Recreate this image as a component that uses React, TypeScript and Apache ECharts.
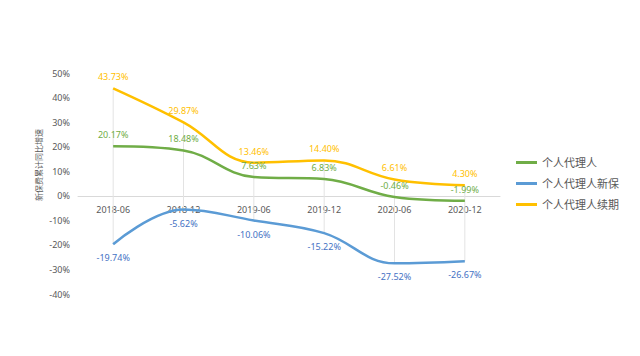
import React, { useEffect, useRef } from "react";
import * as echarts from "echarts";

const categories = ["2018-06", "2018-12", "2019-06", "2019-12", "2020-06", "2020-12"];
const agentTotal = [20.17, 18.48, 7.63, 6.83, -0.46, -1.99];
const agentNew = [-19.74, -5.62, -10.06, -15.22, -27.52, -26.67];
const agentRenew = [43.73, 29.87, 13.46, 14.4, 6.61, 4.3];
const seriesNames = ["个人代理人", "个人代理人新保", "个人代理人续期"];
const yTitle = "新保费累计同比增速";
const yMin = -40;
const yMax = 50;

export default function App() {
  const ref = useRef<HTMLDivElement>(null);
  useEffect(() => {
    if (!ref.current) return;
    const chart = echarts.init(ref.current, null, { renderer: "svg" });
    const hiLo = categories.map((_, i) => {
      const vals = [agentTotal[i], agentNew[i], agentRenew[i]];
      return [i, Math.min(...vals), Math.max(...vals)];
    });
    const gridTop = 73;
    const gridBottom = 62;
    const gridH = 356 - gridTop - gridBottom;
    const zeroOffset = (gridH * (0 - yMin)) / (yMax - yMin);
    const font = "'Noto Sans', 'Noto Sans CJK SC', sans-serif";
    const lbl = (color: string, pos: string, distance: number) => ({
      show: true,
      position: pos,
      distance,
      color,
      fontSize: 9,
      fontFamily: font,
      formatter: (p: any) => p.value.toFixed(2) + "%",
    });
    const lineSeries = (name: string, data: number[], color: string, labelColor: string, pos: string, distance: number) => ({
      name,
      type: "line",
      data,
      smooth: 0.4,
      symbol: "circle",
      symbolSize: 0.1,
      showSymbol: true,
      z: 3,
      lineStyle: { color, width: 2.5 },
      itemStyle: { color },
      label: lbl(labelColor, pos, distance),
      labelLayout: { hideOverlap: false },
    });
    chart.setOption({
      animation: false,
      backgroundColor: "#fff",
      textStyle: { fontFamily: font },
      grid: { left: 78, right: 140, top: gridTop, bottom: gridBottom },
      legend: {
        orient: "vertical",
        left: 511,
        top: 152,
        itemWidth: 21,
        itemHeight: 3,
        itemGap: 10,
        icon: "rect",
        textStyle: { color: "#595959", fontSize: 11, fontFamily: font },
        data: seriesNames,
      },
      graphic: [
        {
          type: "text",
          x: 34,
          y: 201,
          rotation: Math.PI / 2,
          style: { text: yTitle, fontSize: 8, fill: "#595959", fontFamily: font },
        },
      ],
      xAxis: {
        type: "category",
        data: categories,
        offset: -zeroOffset,
        axisLine: { onZero: false, lineStyle: { color: "#d9d9d9" } },
        axisTick: { show: false },
        axisLabel: { color: "#595959", fontSize: 9, margin: 9 },
        splitLine: { show: false },
      },
      yAxis: {
        type: "value",
        min: yMin,
        max: yMax,
        interval: 10,
        axisLine: { show: false },
        axisTick: { show: false },
        splitLine: { show: false },
        axisLabel: { color: "#595959", fontSize: 9, margin: 8, formatter: "{value}%" },
      },
      series: [
        {
          type: "custom",
          silent: true,
          z: 1,
          data: hiLo,
          renderItem: (params: any, api: any) => {
            const p1 = api.coord([api.value(0), api.value(1)]);
            const p2 = api.coord([api.value(0), api.value(2)]);
            return {
              type: "line",
              shape: { x1: p1[0], y1: p1[1], x2: p2[0], y2: p2[1] },
              style: { stroke: "#e3e3e3", lineWidth: 1 },
            };
          },
        },
        lineSeries(seriesNames[0], agentTotal, "#70AD47", "#70AD47", "top", 7),
        lineSeries(seriesNames[1], agentNew, "#5B9BD5", "#4472C4", "bottom", 9),
        lineSeries(seriesNames[2], agentRenew, "#FFC000", "#FFC000", "top", 7),
      ],
    });
    return () => chart.dispose();
  }, []);
  return <div ref={ref} style={{ width: 640, height: 356, position: "absolute", left: 0, top: 0 }} />;
}
